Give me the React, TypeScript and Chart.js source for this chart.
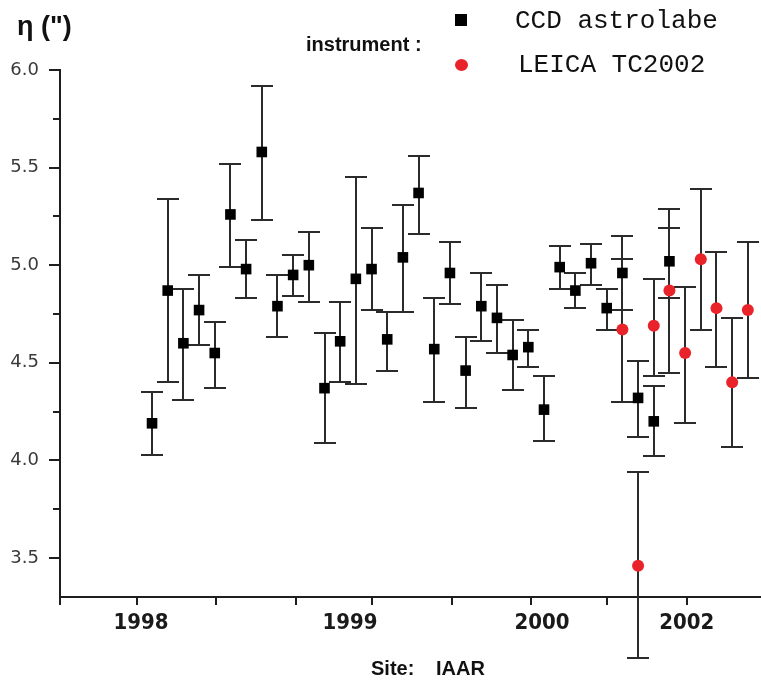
import React, { useEffect, useRef } from 'react';
import { Chart, registerables } from 'chart.js';

Chart.register(...registerables);

// ---- data (x = observation index along the time axis) ----
const CCD_X = [0, 1, 2, 3, 4, 5, 6, 7, 8, 9, 10, 11, 12, 13, 14, 15, 16, 17, 18, 19, 20, 21, 22, 23, 24, 25, 26, 27, 28, 29, 30, 31, 32, 33];
const CCD_Y = [4.19, 4.87, 4.60, 4.77, 4.55, 5.26, 4.98, 5.58, 4.79, 4.95, 5.00, 4.37, 4.61, 4.93, 4.98, 4.62, 5.04, 5.37, 4.57, 4.96, 4.46, 4.79, 4.73, 4.54, 4.58, 4.26, 4.99, 4.87, 5.01, 4.78, 4.96, 4.32, 4.20, 5.02];
const CCD_LOW = [4.03, 4.40, 4.31, 4.59, 4.37, 4.99, 4.83, 5.23, 4.63, 4.84, 4.81, 4.09, 4.40, 4.39, 4.77, 4.46, 4.76, 5.16, 4.30, 4.80, 4.27, 4.61, 4.55, 4.36, 4.48, 4.10, 4.88, 4.78, 4.90, 4.67, 4.77, 4.12, 4.02, 4.83];
const CCD_HIGH = [4.35, 5.34, 4.88, 4.95, 4.71, 5.52, 5.13, 5.92, 4.95, 5.05, 5.17, 4.65, 4.81, 5.45, 5.19, 4.76, 5.31, 5.56, 4.83, 5.12, 4.63, 4.96, 4.90, 4.72, 4.67, 4.43, 5.10, 4.96, 5.11, 4.88, 5.15, 4.51, 4.38, 5.29];

const LEICA_X = [30, 31, 32, 33, 34, 35, 36, 37, 38];
const LEICA_Y = [4.67, 3.46, 4.69, 4.87, 4.55, 5.03, 4.78, 4.40, 4.77];
const LEICA_LOW = [4.30, 2.99, 4.43, 4.45, 4.19, 4.67, 4.48, 4.07, 4.42];
const LEICA_HIGH = [5.03, 3.94, 4.93, 5.19, 4.89, 5.39, 5.07, 4.73, 5.12];

const Y_MAJOR_TICKS = [3.5, 4.0, 4.5, 5.0, 5.5, 6.0];
const Y_MINOR_TICKS = [3.75, 4.25, 4.75, 5.25, 5.75];
const X_MIN = -5.87;
const X_MAX = 38.84;
const X_TICK_MARKS = [-5.87, -0.96, 4.08, 9.18, 14.03, 19.13, 24.17, 29.02, 34.1];
const X_LABEL_POS = [-0.7, 12.63, 24.87, 34.1];
const X_LABELS = ['1998', '1999', '2000', '2002'];

const AXIS_COLOR = '#1e1e1e';
const BAR_COLOR = '#2b2b2b';
const RED = '#e8232a';

const errorBarPlugin = {
  id: 'errorBars',
  beforeDatasetsDraw(chart: any) {
    const { ctx } = chart;
    const xs = chart.scales.x;
    const ys = chart.scales.y;
    ctx.save();
    ctx.strokeStyle = BAR_COLOR;
    ctx.lineWidth = 2;
    const series: [number[], number[], number[]][] = [
      [CCD_X, CCD_LOW, CCD_HIGH],
      [LEICA_X, LEICA_LOW, LEICA_HIGH],
    ];
    for (const [xv, lo, hi] of series) {
      xv.forEach((v, i) => {
        const px = Math.round(xs.getPixelForValue(v));
        const pl = Math.round(ys.getPixelForValue(lo[i]));
        const ph = Math.round(ys.getPixelForValue(hi[i]));
        ctx.beginPath();
        ctx.moveTo(px, pl);
        ctx.lineTo(px, ph);
        ctx.moveTo(px - 11, pl);
        ctx.lineTo(px + 11, pl);
        ctx.moveTo(px - 11, ph);
        ctx.lineTo(px + 11, ph);
        ctx.stroke();
      });
    }
    ctx.restore();
  },
  afterDraw(chart: any) {
    const { ctx, chartArea } = chart;
    const ys = chart.scales.y;
    ctx.save();
    ctx.strokeStyle = AXIS_COLOR;
    ctx.lineWidth = 2;
    Y_MINOR_TICKS.forEach((v) => {
      const py = Math.round(ys.getPixelForValue(v));
      ctx.beginPath();
      ctx.moveTo(chartArea.left - 7, py);
      ctx.lineTo(chartArea.left, py);
      ctx.stroke();
    });
    ctx.restore();
  },
};

const ALL_X_TICKS = Array.from(new Set([...X_TICK_MARKS, ...X_LABEL_POS, X_MAX])).sort((a, b) => a - b);

export default function App() {
  const ref = useRef<HTMLCanvasElement | null>(null);

  useEffect(() => {
    if (!ref.current) return;
    const chart = new Chart(ref.current, {
      type: 'scatter',
      data: {
        datasets: [
          {
            label: 'CCD astrolabe',
            data: CCD_X.map((x, i) => ({ x, y: CCD_Y[i] })),
            pointStyle: 'rect',
            pointRadius: 7.5,
            pointHoverRadius: 7.5,
            backgroundColor: '#000',
            borderWidth: 0,
            showLine: false,
            clip: false,
          },
          {
            label: 'LEICA TC2002',
            data: LEICA_X.map((x, i) => ({ x, y: LEICA_Y[i] })),
            pointStyle: 'circle',
            pointRadius: 6,
            pointHoverRadius: 6,
            backgroundColor: RED,
            borderWidth: 0,
            showLine: false,
            clip: false,
          },
        ],
      },
      options: {
        responsive: false,
        animation: false,
        events: [],
        layout: { autoPadding: false, padding: { top: 70, right: 0, left: 0, bottom: 0 } },
        plugins: { legend: { display: false }, tooltip: { enabled: false }, title: { display: false } },
        scales: {
          x: {
            type: 'linear',
            min: X_MIN,
            max: X_MAX,
            afterBuildTicks: (scale: any) => {
              scale.ticks = ALL_X_TICKS.map((v) => ({ value: v }));
            },
            afterFit: (scale: any) => {
              scale.height = 84;
              scale.paddingRight = 0;
            },
            border: { display: true, color: AXIS_COLOR, width: 2 },
            grid: {
              display: true,
              drawOnChartArea: false,
              drawTicks: true,
              tickLength: 8,
              lineWidth: 2,
              tickColor: (ctx: any) =>
                ctx.tick && X_TICK_MARKS.includes(ctx.tick.value) ? AXIS_COLOR : 'rgba(0,0,0,0)',
            },
            ticks: {
              autoSkip: false,
              maxRotation: 0,
              minRotation: 0,
              padding: 5,
              color: '#1a1a1a',
              font: { family: '"DejaVu Sans Condensed", "DejaVu Sans"', weight: 'bold', size: 22 },
              callback: (value: any) => {
                const i = X_LABEL_POS.indexOf(Number(value));
                return i >= 0 ? X_LABELS[i] : '';
              },
            },
          },
          y: {
            type: 'linear',
            min: 3.3,
            max: 6.0,
            afterBuildTicks: (scale: any) => {
              scale.ticks = Y_MAJOR_TICKS.map((v) => ({ value: v }));
            },
            afterFit: (scale: any) => {
              scale.width = 60;
            },
            border: { display: true, color: AXIS_COLOR, width: 2 },
            grid: {
              display: true,
              drawOnChartArea: false,
              drawTicks: true,
              tickLength: 11,
              lineWidth: 2,
              tickColor: AXIS_COLOR,
            },
            ticks: {
              padding: 10,
              color: '#3a3a3a',
              font: { family: '"DejaVu Sans"', size: 18 },
              callback: (value: any) => Number(value).toFixed(1),
            },
          },
        },
      },
      plugins: [errorBarPlugin],
    });
    return () => chart.destroy();
  }, []);

  const sans = '"Liberation Sans", Arial, sans-serif';
  const mono = '"Liberation Mono", "DejaVu Sans Mono", monospace';

  return (
    <div style={{ position: 'fixed', left: 0, top: 0, width: 761, height: 681, background: '#fff', overflow: 'hidden' }}>
      <canvas ref={ref} width={761} height={681} style={{ position: 'absolute', left: 0, top: 0, width: 761, height: 681 }} />
      <div style={{ position: 'absolute', left: 17, top: 13, font: `bold 27px ${sans}`, lineHeight: '27px', color: '#111', whiteSpace: 'pre' }}>
        η (")
      </div>
      <div style={{ position: 'absolute', left: 306, top: 34, font: `bold 20px ${sans}`, lineHeight: '20px', color: '#111', whiteSpace: 'pre' }}>
        instrument :
      </div>
      <div style={{ position: 'absolute', left: 455, top: 14, width: 12, height: 12, background: '#000' }} />
      <div style={{ position: 'absolute', left: 455, top: 59, width: 13, height: 12, borderRadius: '50%', background: RED }} />
      <div style={{ position: 'absolute', left: 515, top: 8, font: `26px ${mono}`, lineHeight: '26px', color: '#111', whiteSpace: 'pre' }}>
        CCD astrolabe
      </div>
      <div style={{ position: 'absolute', left: 518, top: 52, font: `26px ${mono}`, lineHeight: '26px', color: '#111', whiteSpace: 'pre' }}>
        LEICA TC2002
      </div>
      <div style={{ position: 'absolute', left: 371, top: 658, font: `bold 20px ${sans}`, lineHeight: '20px', color: '#111', whiteSpace: 'pre' }}>
        Site:
      </div>
      <div style={{ position: 'absolute', left: 436, top: 658, font: `bold 20px ${sans}`, lineHeight: '20px', color: '#111', whiteSpace: 'pre' }}>
        IAAR
      </div>
    </div>
  );
}
